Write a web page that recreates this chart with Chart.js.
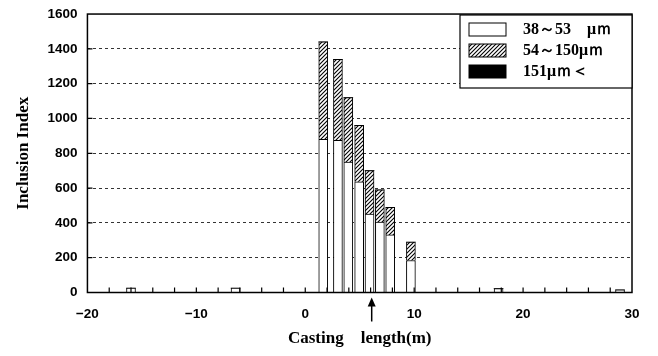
<!DOCTYPE html>
<html>
<head>
<meta charset="utf-8">
<script src="https://cdn.jsdelivr.net/npm/chart.js@4/dist/chart.umd.min.js"></script>
<style>
  html, body { margin: 0; padding: 0; background: #fff; }
</style>
</head>
<body>
<canvas id="chart" width="658" height="356"></canvas>
<script>
// casting length positions (m) and inclusion index per size class
var positions = [-16.0, -6.4, 1.65, 3.0, 3.95, 4.95, 5.9, 6.85, 7.8, 9.7, 17.75, 28.9];
var fine = [25, 25, 880, 875, 750, 636, 450, 405, 331, 184, 22, 15];     // 38~53 um
var medium = [0, 0, 560, 465, 370, 324, 250, 185, 159, 106, 0, 0];      // 54~150 um
var coarse = [0, 0, 0, 0, 0, 0, 0, 0, 0, 0, 0, 0];                      // 151 um <
var seriesNames = ["38～53　μｍ", "54～150μｍ", "151μｍ＜"];
var xTicks = [-20, -10, 0, 10, 20, 30];
var arrowAt = 6.1;

var serif = "'Liberation Serif', 'DejaVu Serif', serif";
var sans = "'Liberation Sans', Arial, sans-serif";

function hatch() {
    var c = document.createElement("canvas");
    c.width = 4; c.height = 4;
    var g = c.getContext("2d");
    g.fillStyle = "#fff";
    g.fillRect(0, 0, 4, 4);
    g.strokeStyle = "#000";
    g.lineWidth = 1.1;
    g.beginPath();
    g.moveTo(0, 4); g.lineTo(4, 0);
    g.moveTo(-1, 1); g.lineTo(1, -1);
    g.moveTo(3, 5); g.lineTo(5, 3);
    g.stroke();
    return g.createPattern(c, "repeat");
}
var hatchFill = hatch();

function pts(vals) {
    return positions.map(function (p, i) { return { x: p, y: vals[i] }; });
}

// frame, inward ticks, arrow and boxed legend
var extras = {
    id: "extras",
    afterDraw: function (chart) {
        var ctx = chart.ctx, a = chart.chartArea;
        var xs = chart.scales.x, ys = chart.scales.y;
        ctx.save();
        ctx.strokeStyle = "#000";
        ctx.lineWidth = 1.5;
        ctx.strokeRect(a.left, a.top, a.right - a.left, a.bottom - a.top);
        ctx.lineWidth = 1.2;
        ctx.beginPath();
        for (var v = -18; v < 30; v += 2) {
            var px = xs.getPixelForValue(v);
            ctx.moveTo(px, a.bottom); ctx.lineTo(px, a.bottom - 5);
        }
        for (var y = 200; y < 1600; y += 200) {
            var py = ys.getPixelForValue(y);
            ctx.moveTo(a.left, py); ctx.lineTo(a.left + 5, py);
        }
        ctx.stroke();

        // arrow
        var ax = xs.getPixelForValue(arrowAt);
        ctx.lineWidth = 1.5;
        ctx.beginPath();
        ctx.moveTo(ax, a.bottom + 29); ctx.lineTo(ax, a.bottom + 12);
        ctx.stroke();
        ctx.fillStyle = "#000";
        ctx.beginPath();
        ctx.moveTo(ax, a.bottom + 5);
        ctx.lineTo(ax - 4, a.bottom + 14);
        ctx.lineTo(ax + 4, a.bottom + 14);
        ctx.closePath();
        ctx.fill();

        // legend
        var lx = 460, ly = 15, lw = 172, lh = 73;
        ctx.fillStyle = "#fff";
        ctx.fillRect(lx, ly, lw, lh);
        ctx.lineWidth = 1.2;
        ctx.strokeRect(lx, ly, lw, lh);
        var fills = ["#fff", hatchFill, "#000"];
        ctx.font = "bold 16px " + serif;
        ctx.textBaseline = "middle";
        for (var i = 0; i < 3; i++) {
            var by = ly + 8 + i * 21;
            ctx.fillStyle = fills[i];
            ctx.fillRect(lx + 9, by, 37, 13);
            ctx.lineWidth = 1;
            ctx.strokeRect(lx + 9, by, 37, 13);
            ctx.fillStyle = "#000";
            ctx.fillText(seriesNames[i], lx + 63, by + 7);
        }
        ctx.restore();
    }
};

var chart = new Chart(document.getElementById("chart"), {
    type: "bar",
    data: {
        datasets: [{
            label: seriesNames[0],
            data: pts(fine),
            backgroundColor: "#fff",
            borderColor: "#000",
            borderWidth: 1,
            barThickness: 9
        }, {
            label: seriesNames[1],
            data: pts(medium),
            backgroundColor: hatchFill,
            borderColor: "#000",
            borderWidth: 1,
            barThickness: 9
        }, {
            label: seriesNames[2],
            data: pts(coarse),
            backgroundColor: "#000",
            borderColor: "#000",
            borderWidth: 0,
            barThickness: 9
        }]
    },
    options: {
        responsive: false,
        animation: false,
        layout: { padding: { top: 0, right: 26, left: 9, bottom: 9 } },
        plugins: { legend: { display: false }, tooltip: { enabled: false } },
        scales: {
            x: {
                type: "linear",
                stacked: true,
                offset: false,
                min: -20, max: 30,
                afterBuildTicks: function (s) {
                    s.ticks = xTicks.map(function (v) { return { value: v }; });
                },
                grid: { display: false, drawTicks: false, offset: false },
                border: { display: false },
                ticks: {
                    color: "#000",
                    padding: 15,
                    autoSkip: false,
                    maxRotation: 0,
                    font: { family: sans, size: 13.5, weight: "bold", lineHeight: 1 },
                    callback: function (v) { return v < 0 ? "−" + Math.abs(v) : String(v); }
                },
                title: {
                    display: true,
                    text: "Casting　length(m)",
                    color: "#000",
                    padding: { top: -6, bottom: 0 },
                    font: { family: serif, size: 17, weight: "bold", lineHeight: 1 }
                }
            },
            y: {
                stacked: true,
                min: 0, max: 1600,
                ticks: {
                    stepSize: 200,
                    autoSkip: false,
                    color: "#000",
                    padding: 10,
                    font: { family: sans, size: 13.5, weight: "bold", lineHeight: 0.6 },
                    callback: function (v) { return String(v); }
                },
                grid: {
                    color: "#000",
                    lineWidth: function (c) { return c.tick.value === 0 || c.tick.value === 1600 ? 0 : 0.8; },
                    drawTicks: false
                },
                border: { display: false, dash: [3, 3] },
                title: {
                    display: true,
                    text: "Inclusion Index",
                    color: "#000",
                    padding: { bottom: 4 },
                    font: { family: serif, size: 17, weight: "bold" }
                }
            }
        }
    },
    plugins: [extras]
});
</script>
</body>
</html>
